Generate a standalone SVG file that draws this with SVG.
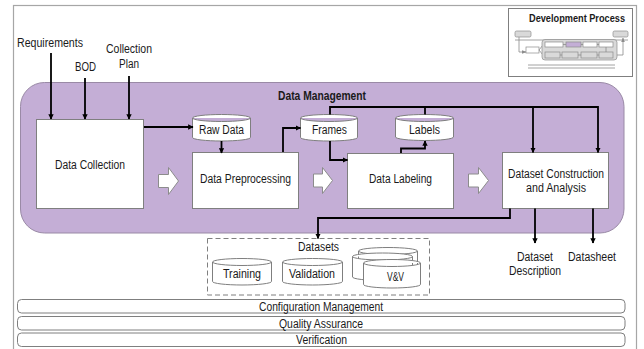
<svg xmlns="http://www.w3.org/2000/svg" width="644" height="349" viewBox="0 0 644 349">
<defs>
<style>
text{font-family:"Liberation Sans",Arial,sans-serif;font-size:12px;fill:#1a1a1a;text-anchor:middle}
.b{font-weight:bold}
.box{fill:#fff;stroke:#7f7f7f;stroke-width:1}
.cyl{fill:#fff;stroke:#7f7f7f;stroke-width:1}
.blk{fill:#fff;stroke:#8c8c8c;stroke-width:1}
.con{fill:none;stroke:#000;stroke-width:1.8}
.bar{fill:#fff;stroke:#7f7f7f;stroke-width:1}
.mini{fill:#d9d9d9;stroke:#8c8c8c;stroke-width:0.7}
.miniw{fill:#fff;stroke:#8c8c8c;stroke-width:0.7}
.mline{fill:none;stroke:#8c8c8c;stroke-width:0.8}
</style>
<marker id="ah" viewBox="0 0 10 10" refX="9" refY="5" markerWidth="3" markerHeight="3" orient="auto">
<path d="M0,0 L10,5 L0,10 Z" fill="#000"/>
</marker>
<marker id="ahs" viewBox="0 0 10 10" refX="9" refY="5" markerWidth="6" markerHeight="6" orient="auto">
<path d="M0,1 L10,5 L0,9 Z" fill="#8c8c8c"/>
</marker>
</defs>
<rect x="0" y="0" width="644" height="349" fill="#fff"/>
<rect x="13.5" y="5.5" width="623" height="350" fill="#fff" stroke="#a6a6a6" stroke-width="1.2"/>

<g id="dev-process">
<rect x="508.5" y="8.5" width="124" height="68" fill="#fff" stroke="#7f7f7f" stroke-width="1"/>
<text x="577" y="21.5" class="b" style="font-size:10.5px" textLength="96" lengthAdjust="spacingAndGlyphs">Development Process</text>
<rect class="mini" x="515" y="31" width="16" height="6" rx="1.5"/>
<rect class="mini" x="613" y="31" width="15" height="6" rx="1.5"/>
<line class="mline" x1="515" y1="40" x2="628" y2="40" stroke="#cfcfcf"/>
<path class="mline" d="M519,37 V52 H526" marker-end="url(#ahs)"/>
<rect class="miniw" x="526" y="47" width="13" height="6"/>
<path class="mline" d="M539,50 L543,45 M539,50 L543,55"/>
<rect class="mini" x="542" y="39.5" width="75" height="20.5" rx="3" fill="#e6e6e6"/>
<rect class="miniw" x="545" y="42" width="18" height="5"/>
<rect x="566" y="42" width="15" height="5" fill="#c3aed6" stroke="#8c8c8c" stroke-width="0.7"/>
<rect class="miniw" x="583" y="42" width="14" height="5"/>
<rect class="miniw" x="599" y="42" width="14" height="5"/>
<rect class="mini" x="545" y="52" width="15" height="6"/>
<rect class="mini" x="562" y="52" width="16" height="6"/>
<rect class="mini" x="581" y="52" width="16" height="6"/>
<rect class="mini" x="599" y="52" width="14" height="6"/>
<path class="mline" d="M563,44.5 H566 M581,44.5 H583 M597,44.5 H599 M560,55 H562 M578,55 H581 M597,55 H599 M606,47 V52"/>
<path class="mline" d="M617,55 H623 V38" marker-end="url(#ahs)"/>
<line x1="528" y1="65" x2="615" y2="65" stroke="#8c8c8c" stroke-width="0.8"/>
<line x1="528" y1="68" x2="615" y2="68" stroke="#8c8c8c" stroke-width="0.8"/>
</g>

<g id="inputs">
<text x="50" y="47" textLength="66" lengthAdjust="spacingAndGlyphs">Requirements</text>
<text x="85.5" y="71" textLength="21" lengthAdjust="spacingAndGlyphs">BOD</text>
<text x="129" y="53" textLength="46" lengthAdjust="spacingAndGlyphs">Collection</text>
<text x="129" y="68" textLength="20" lengthAdjust="spacingAndGlyphs">Plan</text>
</g>

<g id="data-management">
<rect x="20.5" y="82.5" width="603.5" height="150.5" rx="24" fill="#c4aed6" stroke="#9a8aa6" stroke-width="1"/>
<text x="322" y="100" class="b" textLength="88" lengthAdjust="spacingAndGlyphs">Data Management</text>
</g>

<g id="data-collection">
<rect class="box" x="36.5" y="119.5" width="107" height="89"/>
<text x="90" y="169" textLength="70" lengthAdjust="spacingAndGlyphs">Data Collection</text>
</g>

<g id="raw-data">
<path class="cyl" d="M192.5,118 A29,3.5 0 0 1 250.5,118 V137.5 A29,3.5 0 0 1 192.5,137.5 Z M192.5,118 A29,3.5 0 0 0 250.5,118"/>
<text x="221.5" y="134" textLength="45" lengthAdjust="spacingAndGlyphs">Raw Data</text>
</g>

<g id="data-preprocessing">
<rect class="box" x="192.5" y="152.5" width="106" height="56"/>
<text x="245.5" y="183" textLength="91" lengthAdjust="spacingAndGlyphs">Data Preprocessing</text>
</g>

<g id="frames">
<path class="cyl" d="M300.5,118 A28.5,3.5 0 0 1 357.5,118 V137.5 A28.5,3.5 0 0 1 300.5,137.5 Z M300.5,118 A28.5,3.5 0 0 0 357.5,118"/>
<text x="329.5" y="134" textLength="35" lengthAdjust="spacingAndGlyphs">Frames</text>
</g>

<g id="labels">
<path class="cyl" d="M395.5,118 A29,3.5 0 0 1 453.5,118 V137 A29,3.5 0 0 1 395.5,137 Z M395.5,118 A29,3.5 0 0 0 453.5,118"/>
<text x="424.5" y="134" textLength="31" lengthAdjust="spacingAndGlyphs">Labels</text>
</g>

<g id="data-labeling">
<rect class="box" x="347.5" y="153.5" width="106" height="55"/>
<text x="400.5" y="183" textLength="63" lengthAdjust="spacingAndGlyphs">Data Labeling</text>
</g>

<g id="dataset-construction">
<rect class="box" x="502.5" y="152.5" width="106" height="56"/>
<text x="556" y="177.5" textLength="96" lengthAdjust="spacingAndGlyphs">Dataset Construction</text>
<text x="556" y="191.5" textLength="60" lengthAdjust="spacingAndGlyphs">and Analysis</text>
</g>

<g id="flow-arrows">
<polygon class="blk" points="158.5,174.5 168.5,174.5 168.5,167.5 178.5,181 168.5,194.5 168.5,187.5 158.5,187.5"/>
<polygon class="blk" points="313.5,174 322.5,174 322.5,167.5 332.5,180.5 322.5,193.5 322.5,187 313.5,187"/>
<polygon class="blk" points="468.5,174 478.5,174 478.5,167.5 488.5,180.5 478.5,193.5 478.5,187 468.5,187"/>
</g>

<g id="datasets">
<rect x="207.5" y="238.5" width="222" height="56.5" fill="none" stroke="#7f7f7f" stroke-width="1" stroke-dasharray="5,3"/>
<text x="318.5" y="251" textLength="41" lengthAdjust="spacingAndGlyphs">Datasets</text>
<g id="training">
<path class="cyl" d="M212.5,262 A29.5,3.5 0 0 1 271.5,262 V281.5 A29.5,3.5 0 0 1 212.5,281.5 Z M212.5,262 A29.5,3.5 0 0 0 271.5,262"/>
<text x="242" y="278" textLength="38" lengthAdjust="spacingAndGlyphs">Training</text>
</g>
<g id="validation">
<path class="cyl" d="M282.5,262 A30,3.5 0 0 1 342.5,262 V281.5 A30,3.5 0 0 1 282.5,281.5 Z M282.5,262 A30,3.5 0 0 0 342.5,262"/>
<text x="312" y="278" textLength="46" lengthAdjust="spacingAndGlyphs">Validation</text>
</g>
<g id="vv">
<path class="cyl" d="M358.5,251 A29.5,3.5 0 0 1 417.5,251 V271 A29.5,3.5 0 0 1 358.5,271 Z M358.5,251 A29.5,3.5 0 0 0 417.5,251"/>
<path class="cyl" d="M352.5,256.5 A30,3.5 0 0 1 412.5,256.5 V277 A30,3.5 0 0 1 352.5,277 Z M352.5,256.5 A30,3.5 0 0 0 412.5,256.5"/>
<path class="cyl" d="M363.5,263 A28.5,3.5 0 0 1 420.5,263 V284.5 A28.5,3.5 0 0 1 363.5,284.5 Z M363.5,263 A28.5,3.5 0 0 0 420.5,263"/>
<text x="395.5" y="281" textLength="17" lengthAdjust="spacingAndGlyphs">V&amp;V</text>
</g>
</g>

<g id="outputs">
<text x="535" y="261" textLength="36" lengthAdjust="spacingAndGlyphs">Dataset</text>
<text x="535" y="274.5" textLength="52" lengthAdjust="spacingAndGlyphs">Description</text>
<text x="592" y="261" textLength="48" lengthAdjust="spacingAndGlyphs">Datasheet</text>
</g>

<g id="connectors">
<path class="con" d="M51,53 V119" marker-end="url(#ah)"/>
<path class="con" d="M85,78 V119" marker-end="url(#ah)"/>
<path class="con" d="M129,76 V119" marker-end="url(#ah)"/>
<path class="con" d="M144,127 H193" marker-end="url(#ah)"/>
<path class="con" d="M221.5,141 V153" marker-end="url(#ah)"/>
<path class="con" d="M283,152 V128 H300.5" marker-end="url(#ah)"/>
<path class="con" d="M330,141 V160 H347.5" marker-end="url(#ah)"/>
<path class="con" d="M330,114.5 V107 H598 V152.5" marker-end="url(#ah)"/>
<path class="con" d="M533,107 V152.5" marker-end="url(#ah)"/>
<path class="con" d="M425,107 V114.5"/>
<path class="con" d="M401,153 V148.5 H425 V141" marker-end="url(#ah)"/>
<path class="con" d="M510,208.5 V218 H318 V238.5" marker-end="url(#ah)"/>
<path class="con" d="M535,208.5 V243" marker-end="url(#ah)"/>
<path class="con" d="M593,208.5 V243" marker-end="url(#ah)"/>
</g>

<g id="bars">
<rect class="bar" x="17.5" y="299.5" width="607.5" height="13.5" rx="4"/>
<text x="321" y="310.5" textLength="124" lengthAdjust="spacingAndGlyphs">Configuration Management</text>
<rect class="bar" x="17.5" y="316.5" width="607.5" height="13.5" rx="4"/>
<text x="321" y="327.5" textLength="84" lengthAdjust="spacingAndGlyphs">Quality Assurance</text>
<rect class="bar" x="17.5" y="333" width="607.5" height="13.5" rx="4"/>
<text x="321.5" y="344" textLength="51" lengthAdjust="spacingAndGlyphs">Verification</text>
</g>
</svg>
